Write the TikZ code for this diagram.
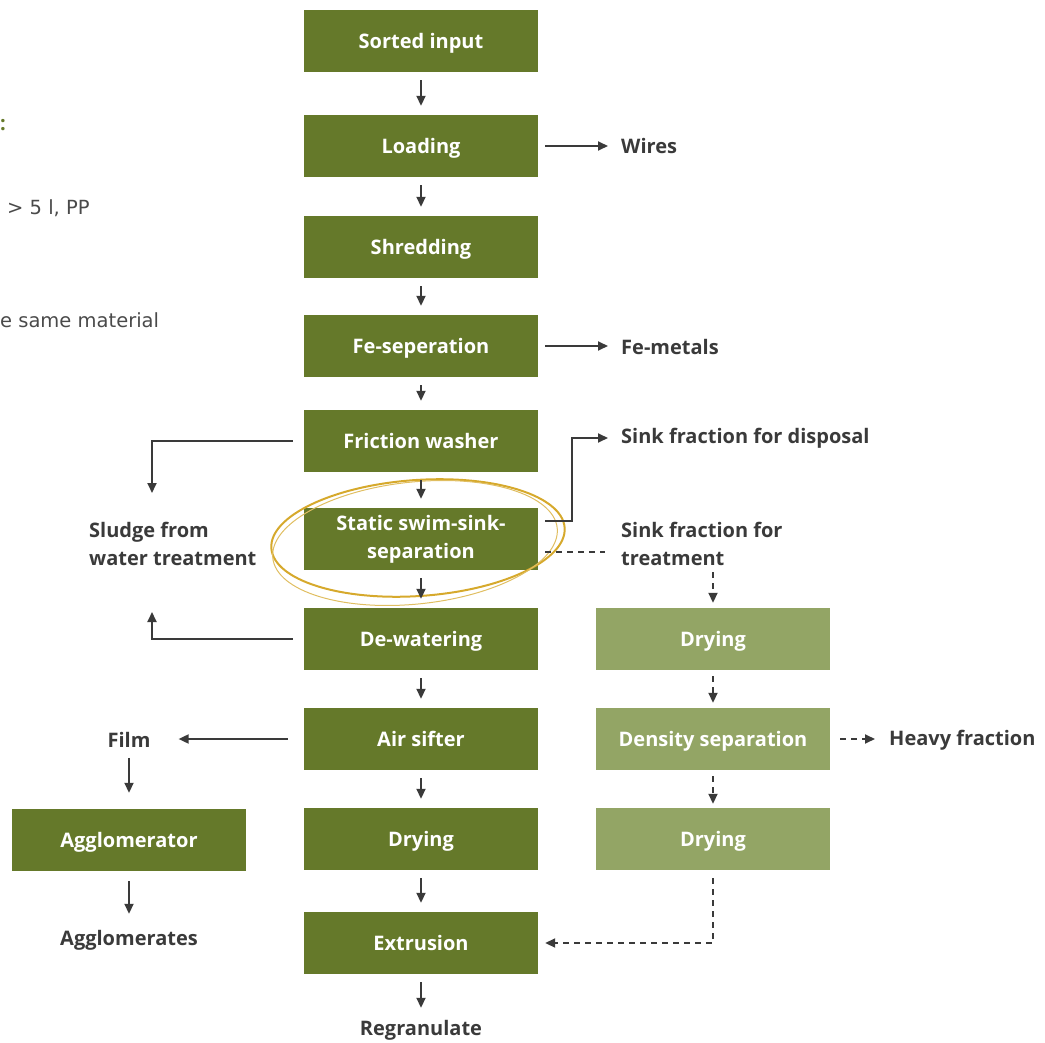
\documentclass[tikz,border=0pt]{standalone}
\usepackage{fontspec}
\setmainfont{Open Sans}
\newfontfamily\greyfont{DejaVu Sans}
\usetikzlibrary{arrows.meta,calc}
\definecolor{dgreen}{HTML}{65792A}
\definecolor{lgreen}{HTML}{93A565}
\definecolor{ink}{HTML}{3A3A3A}
\definecolor{gold}{HTML}{D6A92C}
\definecolor{grey}{HTML}{4A4A4A}
\begin{document}
\begin{tikzpicture}[x=1pt,y=-1pt,
  mbox/.style={rectangle,fill=dgreen,text=white,minimum width=234pt,minimum height=62pt,inner sep=2pt,align=center,font=\fontsize{20}{28}\selectfont\bfseries},
  box/.style={mbox,text depth=0pt},
  lbox/.style={box,fill=lgreen},
  lbl/.style={text=ink,inner sep=0pt,align=left,font=\fontsize{20}{28}\selectfont\bfseries},
  gtxt/.style={anchor=west,inner sep=0pt,text=grey,font=\greyfont\fontsize{19.5}{22}\selectfont},
  arr/.style={draw=ink,line width=1.8pt,-{Triangle[length=10pt,width=9pt]}},
  ln/.style={draw=ink,line width=1.8pt},
  dsh/.style={dash pattern=on 6pt off 5pt}]
\useasboundingbox (0,0) rectangle (1045,1043);
% cropped side text
\node[anchor=west,inner sep=0pt,text=dgreen,font=\fontsize{20}{20}\selectfont\bfseries] (c0) at (0,125) {:};
\node[gtxt] (c1) at (7,208) {> 5 l, PP};
\node[gtxt] (c2) at (0,320) {e same material};
% main column
\node[box] (si) at (421,41) {Sorted input};
\node[box] (ld) at (421,146) {Loading};
\node[box] (sh) at (421,247) {Shredding};
\node[box] (fe) at (421,346) {Fe-seperation};
\node[box] (fw) at (421,441) {Friction washer};
\node[mbox] (ss) at (421,539) {Static swim-sink-\\separation};
\node[box] (dw) at (421,639) {De-watering};
\node[box] (as) at (421,739) {Air sifter};
\node[box] (dr) at (421,839) {Drying};
\node[box] (ex) at (421,943) {Extrusion};
\node[lbl] (rg) at (421,1030) {Regranulate};
% right column
\node[lbox] (d2) at (713,639) {Drying};
\node[lbox] (ds) at (713,739) {Density separation};
\node[lbox] (d3) at (713,839) {Drying};
% left column
\node[box] (ag) at (129,840) {Agglomerator};
\node[lbl] (fm) at (129,740) {Film};
\node[lbl] (ags) at (129,940) {Agglomerates};
% labels
\node[lbl,anchor=west] (wi) at (621,146) {Wires};
\node[lbl,anchor=west] (fm2) at (621,347) {Fe-metals};
\node[lbl,anchor=west] (skd) at (621,438) {Sink fraction for disposal};
\node[lbl,anchor=west] (skt) at (621,544) {Sink fraction for\\treatment};
\node[lbl,anchor=west] (sl) at (89,544) {Sludge from\\water treatment};
\node[lbl,anchor=west] (hv) at (889,740) {Heavy fraction};
% highlight ellipse
\draw[gold,line width=2pt,rotate around={4:(418,538)}] (418,538) ellipse [x radius=147pt,y radius=58pt];
\draw[gold!75,line width=1pt,rotate around={6:(415,543)}] (415,543) ellipse [x radius=143pt,y radius=61pt];
% vertical arrows main
\foreach \a/\b in {si/ld,ld/sh,sh/fe,fe/fw,fw/ss,ss/dw,dw/as,as/dr,dr/ex}
  \draw[arr,shorten <=8pt,shorten >=9pt] (\a.south) -- (\b.north);
\draw[arr,shorten <=8pt,shorten >=12pt] (ex.south) -- (rg.north);
% side arrows
\draw[arr,shorten <=7pt,shorten >=13pt] (ld.east) -- (ld.east -| wi.west);
\draw[arr,shorten <=7pt,shorten >=13pt] (fe.east) -- (fe.east -| fm2.west);
\coordinate (s1) at (152,493);
\coordinate (s2) at (152,612);
\draw[arr] ([xshift=-11pt]fw.west) -| (s1);
\draw[arr] ([xshift=-11pt]dw.west) -| (s2);
\coordinate (k1) at (572,438);
\draw[arr,shorten >=13pt] ([xshift=7pt,yshift=18pt]ss.east) -| (k1) -- (skd.west);
\coordinate (k2) at (605,552);
\draw[ln,dsh] ([xshift=7pt,yshift=-13pt]ss.east) -- (k2);
\coordinate (k3) at (713,572);
\draw[arr,dsh,shorten >=5pt] (k3) -- (d2.north);
\draw[arr,dsh,shorten <=6pt,shorten >=5pt] (d2.south) -- (ds.north);
\draw[arr,dsh,shorten <=6pt,shorten >=4pt] (ds.south) -- (d3.north);
\draw[arr,dsh,shorten <=10pt,shorten >=14pt] (ds.east) -- (ds.east -| hv.west);
\draw[arr,dsh] ([yshift=-8pt]d3.south) |- ([xshift=7pt]ex.east);
% film branch
\draw[arr,shorten <=16pt,shorten >=28pt] (as.west) -- (as.west -| fm.east);
\draw[arr,shorten <=10pt,shorten >=16pt] (fm.south) -- (ag.north);
\draw[arr,shorten <=10pt,shorten >=16pt] (ag.south) -- (ags.north);
\end{tikzpicture}
\end{document}
